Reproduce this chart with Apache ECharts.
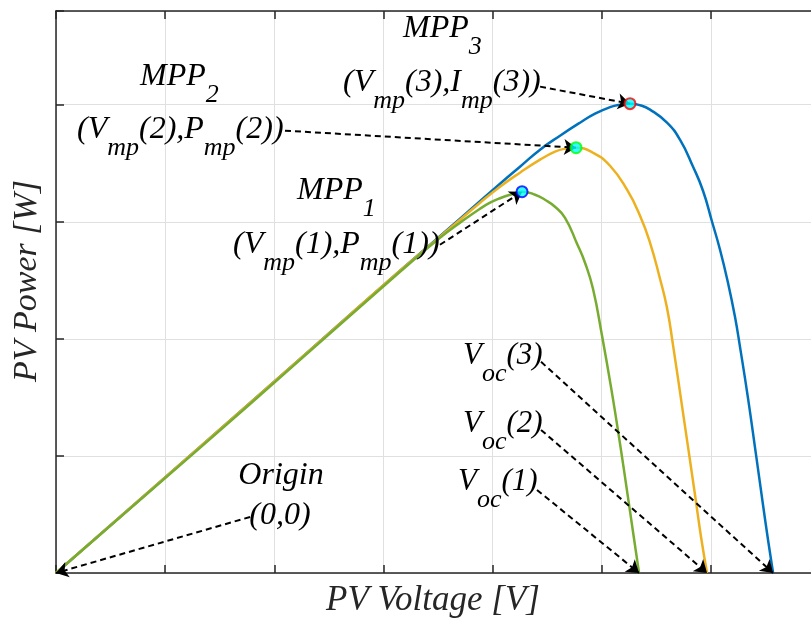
<!DOCTYPE html>
<html>
<head>
<meta charset="utf-8">
<script src="https://cdn.jsdelivr.net/npm/echarts@6/dist/echarts.min.js"></script>
<style>
  html, body { margin: 0; padding: 0; background: #ffffff; overflow: hidden; }
  /* the axes box runs a little past the right edge of the window */
  #chart { width: 820px; height: 624px; }
</style>
</head>
<body>
<div id="chart"></div>
<script>
// P-V characteristic samples for three operating conditions (voltage in V, power in W)
const voltage3 = [0, 13.19, 22.36, 31.52, 37.02, 40.68, 42.51, 44.35, 46.18, 48.01, 49.39, 50.76, 51.68, 52.59, 53.51, 54.43, 55.98, 57.17, 58.37, 59.28, 60.11, 60.84, 61.57, 62.21, 62.67, 63.40, 64.14, 64.78, 65.24, 65.70];
const power3   = [0, 21.54, 36.58, 51.62, 60.51, 66.50, 69.40, 72.31, 74.70, 76.92, 78.46, 79.57, 80.00, 80.17, 79.91, 79.15, 76.92, 74.02, 69.40, 65.30, 60.00, 55.21, 49.57, 43.76, 38.63, 29.91, 20.17, 11.62, 5.64, 0];

const voltage2 = [0, 13.19, 22.36, 31.52, 37.02, 38.85, 40.68, 42.51, 44.35, 45.72, 46.64, 47.65, 49.20, 50.76, 52.32, 53.51, 54.43, 55.34, 55.98, 56.53, 57.45, 58.55, 59.10, 59.65];
const power2   = [0, 21.54, 36.58, 51.62, 60.34, 63.25, 65.98, 68.38, 70.60, 71.97, 72.48, 72.65, 71.79, 69.57, 65.47, 61.03, 56.41, 50.26, 45.30, 38.97, 27.35, 13.33, 6.15, 0];

const voltage1 = [0, 13.19, 22.36, 31.52, 35.18, 37.02, 38.85, 39.77, 40.68, 41.60, 42.70, 43.89, 44.80, 45.72, 46.64, 47.74, 48.47, 49.20, 50.03, 50.94, 51.68, 52.32, 52.87, 53.42];
const power1   = [0, 21.37, 36.41, 51.45, 57.26, 59.83, 62.22, 63.25, 64.02, 64.62, 65.13, 64.62, 63.76, 62.56, 60.68, 56.24, 52.99, 48.55, 40.51, 30.77, 22.05, 14.02, 7.01, 0];

// Maximum power points (1, 2, 3) and open-circuit voltages
const mppVoltage = [42.70, 47.65, 52.59];
const mppPower   = [65.13, 72.65, 80.17];
const vocVoltage = [53.42, 59.65, 65.70];

// Where each annotation arrow starts (next to its label)
const mppArrowFromV = [35.18, 20.98, 44.35];
const mppArrowFromP = [56.07, 75.56, 83.08];
const vocArrowFromV = [44.07, 44.44, 44.44];
const vocArrowFromP = [14.19, 24.44, 36.07];
const originArrowFrom = [17.78, 9.57];

// Axis setup
const xMin = 0, xMax = 70, xStep = 10;
const yMin = 0, yMax = 96, yStep = 20;

const curveColors = ['#77AC30', '#EDB120', '#0072BD'];
const mppEdgeColors = ['#0000FF', '#00FF00', '#FF0000'];

const pairs = (xs, ys) => xs.map((x, i) => [x, ys[i]]);

const serif = '"Liberation Serif", "Times New Roman", serif';
const rich = {
  m: { fontFamily: serif, fontStyle: 'italic', fontSize: 32, lineHeight: 33, color: '#000', verticalAlign: 'top' },
  s: { fontFamily: serif, fontStyle: 'italic', fontSize: 26, lineHeight: 26, color: '#000', verticalAlign: 'top', padding: [21, 0, 0, 0] },
  v: { fontFamily: serif, fontStyle: 'italic', fontSize: 31, lineHeight: 33, color: '#000', verticalAlign: 'top' }
};

function label(x, y, text, align) {
  return {
    type: 'text', x: x, y: y, z: 100,
    style: { text: text, rich: rich, align: align || 'left', verticalAlign: 'top' }
  };
}

const axisColor = '#262626';
const gridColor = '#e0e0e0';

const arrowLines = [];
for (let i = 0; i < 3; i++) {
  arrowLines.push([{ coord: [mppArrowFromV[i], mppArrowFromP[i]] }, { coord: [mppVoltage[i], mppPower[i]] }]);
  arrowLines.push([{ coord: [vocArrowFromV[i], vocArrowFromP[i]] }, { coord: [vocVoltage[i], 0] }]);
}
arrowLines.push([{ coord: originArrowFrom }, { coord: [0, 0] }]);

const chart = echarts.init(document.getElementById('chart'), null, { renderer: 'canvas' });

chart.setOption({
  animation: false,
  backgroundColor: '#ffffff',
  grid: { left: 56, top: 11, right: 0, bottom: 51 },
  xAxis: [
    {
      type: 'value', min: xMin, max: xMax, interval: xStep, position: 'bottom',
      axisLine: { show: true, lineStyle: { color: axisColor, width: 1.5 } },
      axisTick: { show: true, inside: true, length: 8, lineStyle: { color: axisColor, width: 1.5 } },
      axisLabel: { show: false },
      splitLine: { show: true, lineStyle: { color: gridColor, width: 1 } }
    },
    {
      type: 'value', min: xMin, max: xMax, interval: xStep, position: 'top',
      axisLine: { show: true, onZero: false, lineStyle: { color: axisColor, width: 1.5 } },
      axisTick: { show: true, inside: true, length: 8, lineStyle: { color: axisColor, width: 1.5 } },
      axisLabel: { show: false },
      splitLine: { show: false }
    }
  ],
  yAxis: {
    type: 'value', min: yMin, max: yMax, interval: yStep,
    axisLine: { show: true, lineStyle: { color: axisColor, width: 1.5 } },
    axisTick: { show: true, inside: true, length: 8, lineStyle: { color: axisColor, width: 1.5 } },
    axisLabel: { show: false },
    splitLine: { show: true, lineStyle: { color: gridColor, width: 1 } }
  },
  series: [
    {
      name: 'Condition 3', type: 'line', data: pairs(voltage3, power3),
      showSymbol: false, smooth: 0.5, z: 2,
      lineStyle: { color: curveColors[2], width: 2.5 }
    },
    {
      name: 'Condition 2', type: 'line', data: pairs(voltage2, power2),
      showSymbol: false, smooth: 0.5, z: 3,
      lineStyle: { color: curveColors[1], width: 2.5 }
    },
    {
      name: 'Condition 1', type: 'line', data: pairs(voltage1, power1),
      showSymbol: false, smooth: 0.5, z: 4,
      lineStyle: { color: curveColors[0], width: 2.5 }
    },
    {
      name: 'Arrows', type: 'line', data: [], z: 5, silent: true,
      markLine: {
        silent: true, animation: false,
        symbol: ['none', 'arrow'], symbolSize: 12,
        label: { show: false },
        lineStyle: { color: '#000', width: 2, type: [6, 4] },
        data: arrowLines
      }
    },
    {
      name: 'MPP', type: 'scatter', z: 10, symbol: 'circle', symbolSize: 11,
      data: mppVoltage.map((v, i) => ({
        value: [v, mppPower[i]],
        itemStyle: { color: '#00FFFF', borderColor: mppEdgeColors[i], borderWidth: 2 }
      }))
    }
  ],
  graphic: [
    label(403, 13, '{m|MPP}{s|3}'),
    label(343, 67, '{m|(V}{s|mp}{m|(3),I}{s|mp}{m|(3))}'),
    label(140, 61, '{m|MPP}{s|2}'),
    label(77, 114, '{m|(V}{s|mp}{m|(2),P}{s|mp}{m|(2))}'),
    label(297, 175, '{m|MPP}{s|1}'),
    label(233, 229, '{m|(V}{s|mp}{m|(1),P}{s|mp}{m|(1))}'),
    label(463, 340, '{v|V}{s|oc}{v|(3)}'),
    label(463, 408, '{v|V}{s|oc}{v|(2)}'),
    label(458, 466, '{v|V}{s|oc}{v|(1)}'),
    label(281, 460, '{m|Origin}', 'center'),
    label(280, 500, '{m|(0,0)}', 'center'),
    {
      type: 'text', x: 433, y: 601, z: 100,
      style: { text: 'PV Voltage [V]', fontFamily: serif, fontStyle: 'italic', fontSize: 35, fill: axisColor, align: 'center', verticalAlign: 'middle' }
    },
    {
      type: 'text', x: 27, y: 281, rotation: Math.PI / 2, z: 100,
      style: { text: 'PV Power [W]', fontFamily: serif, fontStyle: 'italic', fontSize: 34, fill: axisColor, align: 'center', verticalAlign: 'middle' }
    }
  ]
});
</script>
</body>
</html>
